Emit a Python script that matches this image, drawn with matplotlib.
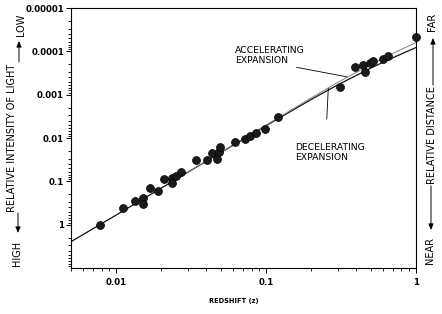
import matplotlib
matplotlib.use('Agg')
import matplotlib.pyplot as plt
from matplotlib.ticker import LogLocator, NullFormatter
from matplotlib.patches import FancyArrowPatch

# ---- data ----
z_obs = [0.0078, 0.0111, 0.0134, 0.0152, 0.0152, 0.0169, 0.0191, 0.021, 0.0235,
         0.0235, 0.0251, 0.027, 0.034, 0.0406, 0.0434, 0.0469, 0.0489, 0.0494,
         0.062, 0.0724, 0.078, 0.086, 0.099, 0.121, 0.311, 0.392, 0.446, 0.457,
         0.494, 0.52, 0.6, 0.654, 1.0]
intensity_obs = [1.0, 0.42, 0.287, 0.24, 0.34, 0.146, 0.166, 0.0875, 0.083,
                 0.108, 0.076, 0.060, 0.033, 0.032, 0.0227, 0.031, 0.0208, 0.016,
                 0.0122, 0.0108, 0.0089, 0.0078, 0.0063, 0.0033, 0.00068, 0.000227,
                 0.000207, 0.000296, 0.000189, 0.000165, 0.000153, 0.000128, 0.0000475]

z_decel = [0.005, 0.01, 0.03, 0.1, 0.2, 0.3, 0.5, 0.7, 1.0]
intensity_decel = [2.47, 0.60, 0.062, 0.0052, 0.00129, 0.000597, 0.000243, 0.000141, 0.0000816]

z_accel = [0.03, 0.1, 0.2, 0.3, 0.5, 0.7, 1.0]
intensity_accel = [0.062, 0.00504, 0.00119, 0.000522, 0.000202, 0.000112, 0.0000627]

y_ticks = [1e-5, 1e-4, 1e-3, 1e-2, 1e-1, 1]
y_tick_labels = ['0.00001', '0.0001', '0.001', '0.01', '0.1', '1']
x_ticks = [0.01, 0.1, 1]
x_tick_labels = ['0.01', '0.1', '1']

W, H = 442, 314
fig = plt.figure(figsize=(W / 100, H / 100), dpi=100)
ax = fig.add_axes([71 / W, 1 - 268 / H, (416 - 71) / W, (268 - 8) / H])
ax.set_xscale('log')
ax.set_yscale('log')
ax.set_xlim(0.005, 1)
ax.set_ylim(10, 1e-5)

ax.plot(z_decel, intensity_decel, color='#111111', lw=0.9, zorder=2)
ax.plot(z_accel, intensity_accel, color='#808080', lw=0.7, zorder=2)
ax.plot(z_obs, intensity_obs, 'o', ms=5.7, color='#1a1a1a', mec='#000000',
        mew=0.5, zorder=3, clip_on=False)

ax.set_yticks(y_ticks)
ax.set_yticklabels(y_tick_labels)
ax.set_xticks(x_ticks)
ax.set_xticklabels(x_tick_labels)
ax.yaxis.set_minor_locator(LogLocator(base=10, subs=range(2, 10), numticks=50))
ax.xaxis.set_minor_locator(LogLocator(base=10, subs=range(2, 10), numticks=50))
ax.yaxis.set_minor_formatter(NullFormatter())
ax.xaxis.set_minor_formatter(NullFormatter())
ax.tick_params(axis='both', which='major', direction='out', length=3.5, width=0.7,
               labelsize=6.2, pad=1.5, colors='black')
ax.tick_params(axis='both', which='minor', direction='out', length=2, width=0.6)
ax.tick_params(axis='x', which='major', pad=3.5)
for lab in ax.get_xticklabels() + ax.get_yticklabels():
    lab.set_fontweight('bold')
for sp in ax.spines.values():
    sp.set_linewidth(0.8)
    sp.set_color('black')

# annotations
ax.text(0.062, 7.55e-5, 'ACCELERATING\nEXPANSION', ha='left', va='top',
        fontsize=6.7, linespacing=1.2)
ax.plot([0.160, 0.345], [2.34e-4, 3.87e-4], color='black', lw=0.6)
ax.text(0.156, 0.0131, 'DECELERATING\nEXPANSION', ha='left', va='top',
        fontsize=6.7, linespacing=1.1)
ax.plot([0.254, 0.26], [0.00366, 0.000715], color='black', lw=0.6)


def fx(px):
    return px / W


def fy(py):
    return 1 - py / H


# x label
fig.text(fx(234), fy(301), 'REDSHIFT (z)', ha='center', va='center',
         fontsize=4.8, fontweight='bold')

# left side label with arrows
fig.text(fx(12), fy(137.5), 'RELATIVE INTENSITY OF LIGHT', rotation=90,
         ha='center', va='center', fontsize=7)
fig.text(fx(21), fy(25), 'LOW', rotation=90, ha='center', va='center', fontsize=7)
fig.text(fx(17), fy(253.5), 'HIGH', rotation=90, ha='center', va='center', fontsize=7)

# right side label with arrows
fig.text(fx(432), fy(135.5), 'RELATIVE DISTANCE', rotation=90,
         ha='center', va='center', fontsize=7)
fig.text(fx(432), fy(22), 'FAR', rotation=90, ha='center', va='center', fontsize=7)
fig.text(fx(430), fy(251), 'NEAR', rotation=90, ha='center', va='center', fontsize=7)


def arrow(x, y0, y1):
    fig.add_artist(FancyArrowPatch((fx(x), fy(y0)), (fx(x), fy(y1)),
                                   transform=fig.transFigure,
                                   arrowstyle='-|>,head_length=0.7,head_width=0.3',
                                   mutation_scale=5, lw=0.7, color='black',
                                   shrinkA=0, shrinkB=0))


arrow(19, 62, 41)
arrow(18, 213, 233)
arrow(433, 85, 38)
arrow(431, 186, 230)

fig.savefig('out.png', dpi=100)
